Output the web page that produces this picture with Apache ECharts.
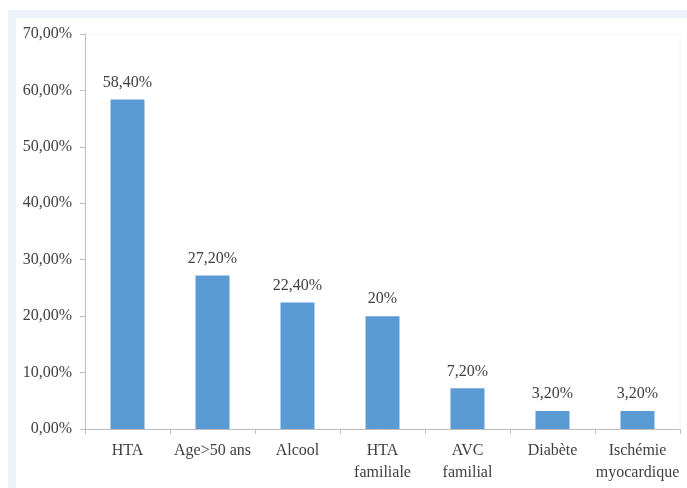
<!DOCTYPE html>
<html>
<head>
<meta charset="utf-8">
<script src="https://cdn.jsdelivr.net/npm/echarts@6/dist/echarts.min.js"></script>
<style>
  html, body { margin: 0; padding: 0; background: #fff; }
  #chart { width: 687px; height: 488px; }
</style>
</head>
<body>
<div id="chart"></div>
<script>
// facteurs de risque
const categories = ['HTA', 'Age>50 ans', 'Alcool', 'HTA\nfamiliale', 'AVC\nfamilial', 'Diabète', 'Ischémie\nmyocardique']
const values = [58.4, 27.2, 22.4, 20, 7.2, 3.2, 3.2]
const valueLabels = ['58,40%', '27,20%', '22,40%', '20%', '7,20%', '3,20%', '3,20%']
const yTicks = [0, 10, 20, 30, 40, 50, 60, 70]

const textColor = '#404040'
const font = 'Liberation Serif'

const chart = echarts.init(document.getElementById('chart'))

const option = {
  backgroundColor: '#fff',
  animation: false,
  graphic: [
    // bandeau bleu clair en haut et à gauche
    { type: 'rect', shape: { x: 8, y: 10, width: 679, height: 8 }, style: { fill: '#eef3fa' }, silent: true },
    { type: 'rect', shape: { x: 8, y: 10, width: 8, height: 478 }, style: { fill: '#eef3fa' }, silent: true },
  ],
  grid: {
    left: 85,
    right: 7,
    top: 34,
    bottom: 59,
    show: true,
    borderColor: '#f4f4f4',
    borderWidth: 1,
  },
  xAxis: {
    type: 'category',
    data: categories,
    axisLine: { lineStyle: { color: '#bfbfbf' } },
    axisTick: { show: true, alignWithLabel: false, length: 5, lineStyle: { color: '#bfbfbf' } },
    axisLabel: {
      color: textColor,
      fontFamily: font,
      fontSize: 16,
      lineHeight: 22,
      margin: 11,
      interval: 0,
    },
  },
  yAxis: {
    type: 'value',
    min: yTicks[0],
    max: yTicks[yTicks.length - 1],
    interval: 10,
    axisLine: { show: true, lineStyle: { color: '#bfbfbf' } },
    axisTick: { show: true, length: 5, lineStyle: { color: '#bfbfbf' } },
    splitLine: { show: false },
    axisLabel: {
      color: textColor,
      fontFamily: font,
      fontSize: 16,
      margin: 13,
      formatter: (v) => v.toFixed(2).replace('.', ',') + '%',
    },
  },
  series: [
    {
      type: 'bar',
      data: values,
      barWidth: '40%',
      itemStyle: { color: '#5b9bd5' },
      label: {
        show: true,
        position: 'top',
        distance: 9,
        color: textColor,
        fontFamily: font,
        fontSize: 16,
        formatter: (p) => valueLabels[p.dataIndex],
      },
    },
  ],
}

chart.setOption(option)
</script>
</body>
</html>
